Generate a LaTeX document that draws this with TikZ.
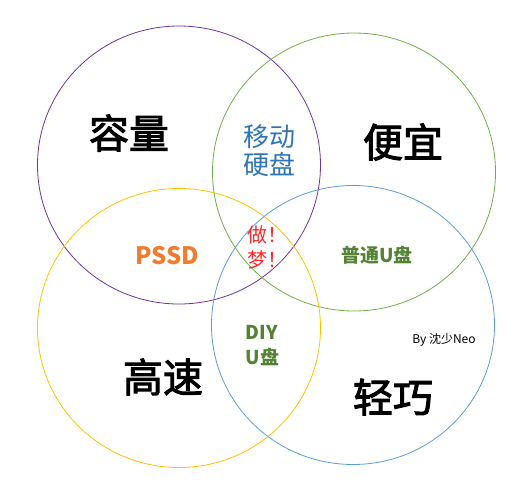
\documentclass[tikz,border=0pt]{standalone}
\usepackage{fontspec}
\setmainfont{Noto Sans CJK SC}
\newfontfamily\heavyfont[FakeBold=2.5]{Noto Sans CJK SC}
\usepackage{tikz}

\definecolor{ringpurple}{RGB}{112,48,160}
\definecolor{ringgreen}{RGB}{112,173,71}
\definecolor{ringyellow}{RGB}{255,192,0}
\definecolor{ringblue}{RGB}{91,155,213}
\definecolor{txtblue}{RGB}{46,117,182}
\definecolor{txtorange}{RGB}{237,125,49}
\definecolor{txtgreen}{RGB}{84,130,53}

\begin{document}
\begin{tikzpicture}[
  x=1pt, y=-1pt,
  ring/.style={line width=0.8pt},
  bigword/.style={font=\fontsize{40}{44}\selectfont\heavyfont, text=black},
  midword/.style={font=\fontsize{26}{32}\selectfont, text=txtblue, align=center},
  tag/.style={font=\fontsize{19}{25}\selectfont\bfseries, text=txtgreen},
  sign/.style={font=\fontsize{12}{14}\selectfont, text=black}
]
\useasboundingbox (0,0) rectangle (516,496);

% the four sets
\draw[ring, draw=ringpurple] (179,165) ellipse [x radius=141.5, y radius=139];
\draw[ring, draw=ringgreen] (354,172) ellipse [x radius=141.5, y radius=139];
\draw[ring, draw=ringyellow] (179,328) ellipse [x radius=141.5, y radius=139.5];
\draw[ring, draw=ringblue] (353,325) ellipse [x radius=141.5, y radius=139.5];

% set names
\node[bigword] (capacity) at (129,133) {容量};
\node[bigword] (cheap) at (403,142) {便宜};
\node[bigword] (fast) at (163,377) {高速};
\node[bigword] (light) at (393,397) {轻巧};

% overlaps
\node[midword] (hdd) at (269,151) {移动\\[-4pt]硬盘};
\node[font=\fontsize{24}{28}\selectfont\bfseries, text=txtorange] (pssd) at (167,256) {PSSD};
\node[font=\fontsize{20}{25}\selectfont, text=red!85, align=center] (dream) at (267,247) {做！\\梦！};
\node[tag] (udisk) at (377,255) {普通U盘};
\node[tag, align=left, anchor=west] (diy) at (242,346) {DIY\\U盘};
\node[sign] (by) at (444,340) {By 沈少Neo};
\end{tikzpicture}
\end{document}
